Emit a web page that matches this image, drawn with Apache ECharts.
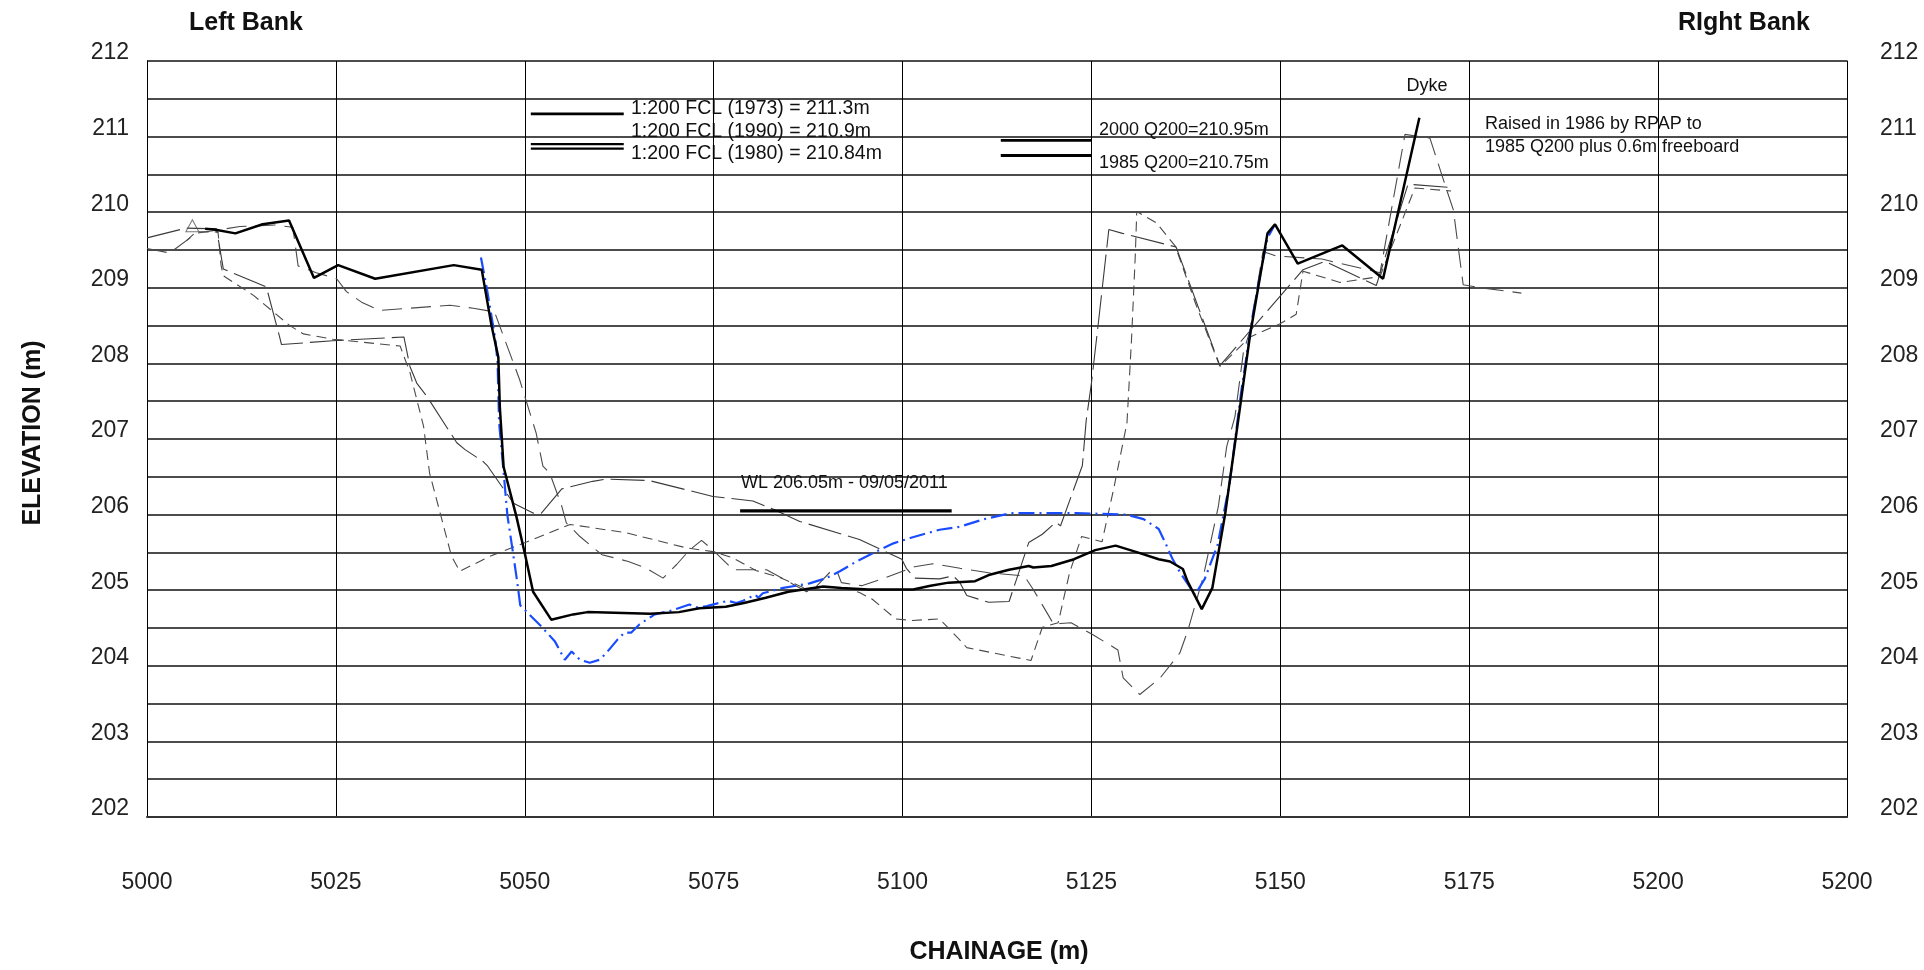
<!DOCTYPE html>
<html>
<head>
<meta charset="utf-8">
<script src="https://cdn.jsdelivr.net/npm/echarts@6/dist/echarts.min.js"></script>
<style>
  html, body { margin: 0; padding: 0; background: #fff; }
  #box { width: 1924px; height: 970px; }
</style>
</head>
<body>
<div id="box"></div>
<script>
// tick labels (the last one really reads 5200 on the drawing)
const xTickLabels = ['5000', '5025', '5050', '5075', '5100', '5125', '5150', '5175', '5200', '5200'];
const yTickLabels = ['202', '203', '204', '205', '206', '207', '208', '209', '210', '211', '212'];

// surveys: [chainage, elevation]
const surveyBlack = [
  [5007.7, 209.78], [5008.9, 209.77], [5011.7, 209.72], [5015.3, 209.84], [5018.8, 209.89], [5022.1, 209.13],
  [5025.3, 209.30], [5030.2, 209.12], [5040.6, 209.30], [5044.3, 209.24], [5045.6, 208.50], [5046.5, 208.08],
  [5046.7, 207.42], [5047.2, 206.63], [5048.9, 205.97], [5050.0, 205.49], [5051.1, 204.98], [5053.5, 204.61],
  [5056.4, 204.68], [5058.3, 204.71], [5066.6, 204.69], [5070.4, 204.71], [5073.1, 204.76], [5076.6, 204.78],
  [5079.0, 204.83], [5081.9, 204.90], [5084.9, 204.98], [5089.5, 205.05], [5091.9, 205.03], [5095.5, 205.01],
  [5101.4, 205.01], [5103.7, 205.06], [5106.1, 205.10], [5109.6, 205.12], [5111.4, 205.20], [5114.1, 205.27],
  [5116.7, 205.32], [5117.3, 205.30], [5119.7, 205.32], [5122.7, 205.41], [5125.5, 205.53], [5128.2, 205.59],
  [5131.1, 205.50], [5133.9, 205.41], [5135.4, 205.38], [5137.1, 205.28], [5137.7, 205.12], [5139.6, 204.75],
  [5141.0, 205.03], [5142.7, 206.01], [5146.0, 208.38], [5148.3, 209.72], [5149.3, 209.84], [5152.3, 209.32],
  [5158.2, 209.56], [5163.6, 209.12], [5168.4, 211.25]
];
const surveyBlue = [
  [5044.2, 209.40], [5045.0, 208.98], [5046.1, 208.32], [5046.4, 208.01], [5046.6, 207.22], [5047.2, 206.56],
  [5047.7, 205.99], [5048.3, 205.59], [5049.0, 205.11], [5049.4, 204.80], [5050.3, 204.71], [5052.3, 204.51],
  [5054.0, 204.32], [5055.3, 204.08], [5056.2, 204.19], [5056.4, 204.17], [5057.3, 204.08], [5058.6, 204.04],
  [5059.9, 204.08], [5060.8, 204.17], [5062.3, 204.35], [5063.2, 204.44], [5064.1, 204.44], [5065.2, 204.55],
  [5067.2, 204.68], [5069.4, 204.73], [5071.8, 204.81], [5072.9, 204.77], [5074.1, 204.79], [5076.9, 204.86],
  [5078.0, 204.83], [5078.9, 204.86], [5080.5, 204.94], [5080.9, 204.90], [5081.5, 204.96], [5084.2, 205.03],
  [5087.7, 205.09], [5089.9, 205.16], [5091.7, 205.25], [5093.9, 205.38], [5096.5, 205.51], [5098.8, 205.62],
  [5101.0, 205.69], [5104.9, 205.80], [5107.6, 205.84], [5110.8, 205.94], [5114.4, 206.02], [5123.0, 206.02],
  [5129.6, 206.00], [5131.9, 205.94], [5133.9, 205.81], [5134.9, 205.60], [5135.7, 205.42], [5136.7, 205.24],
  [5138.7, 204.94], [5140.0, 205.15], [5141.7, 205.60], [5143.3, 206.42], [5144.8, 207.61], [5146.3, 208.61],
  [5147.3, 209.16], [5148.3, 209.66], [5149.3, 209.84]
];
const surveyA = [
  [5000.0, 209.66], [5005.2, 209.79], [5009.2, 209.78], [5010.1, 209.25], [5015.8, 209.01], [5017.5, 208.37],
  [5017.8, 208.25], [5024.6, 208.30], [5034.0, 208.35], [5034.8, 207.96], [5035.7, 207.74], [5037.0, 207.57],
  [5041.0, 206.95], [5042.1, 206.86], [5044.5, 206.70], [5045.1, 206.64], [5048.5, 206.15], [5051.1, 206.02],
  [5052.2, 206.02], [5054.9, 206.34], [5059.0, 206.44], [5060.8, 206.47], [5066.5, 206.45], [5074.9, 206.24],
  [5080.2, 206.18], [5082.9, 206.07], [5086.4, 205.91], [5094.3, 205.67], [5099.9, 205.41], [5100.5, 205.29],
  [5101.6, 205.16], [5104.9, 205.15], [5106.7, 205.19], [5107.6, 205.10], [5108.5, 204.93], [5111.4, 204.84],
  [5114.1, 204.85], [5116.7, 205.63], [5118.5, 205.74], [5120.3, 205.90], [5120.9, 205.85], [5123.8, 206.65],
  [5124.3, 207.24], [5125.0, 207.74], [5126.0, 208.61], [5127.3, 209.77], [5129.1, 209.72], [5136.2, 209.54],
  [5142.0, 207.97], [5153.0, 209.24], [5155.9, 209.35], [5162.7, 209.03], [5166.9, 210.37], [5172.2, 210.33]
];
const surveyB = [
  [5000.0, 209.52], [5003.0, 209.46], [5006.5, 209.72], [5012.3, 209.81], [5017.0, 209.83], [5019.3, 209.80],
  [5020.0, 209.29], [5022.4, 209.20], [5025.1, 209.12], [5026.4, 208.95], [5028.4, 208.81], [5030.8, 208.70],
  [5040.1, 208.77], [5043.2, 208.73], [5046.0, 208.68], [5046.7, 208.49], [5049.3, 207.79], [5051.5, 207.08],
  [5052.4, 206.64], [5053.3, 206.55], [5054.9, 206.11], [5055.5, 205.89], [5057.3, 205.71], [5060.2, 205.47],
  [5063.7, 205.38], [5066.1, 205.29], [5068.3, 205.16], [5070.1, 205.34], [5071.8, 205.53], [5073.4, 205.66],
  [5074.9, 205.53], [5077.6, 205.27], [5082.0, 205.27], [5085.5, 205.08], [5087.3, 204.98], [5088.6, 205.05],
  [5090.4, 205.24], [5091.3, 205.26], [5091.9, 205.10], [5094.6, 205.06], [5097.0, 205.14], [5101.6, 205.31],
  [5104.0, 205.35], [5107.6, 205.29], [5111.4, 205.23], [5116.1, 205.19], [5117.3, 205.01], [5120.0, 204.55],
  [5120.9, 204.56], [5122.3, 204.57], [5125.2, 204.41], [5128.5, 204.21], [5129.2, 203.84], [5131.4, 203.62],
  [5134.1, 203.84], [5136.7, 204.17], [5137.8, 204.48], [5139.8, 205.18], [5141.8, 206.11], [5142.9, 206.90],
  [5144.0, 207.30], [5145.1, 208.14], [5146.0, 208.44], [5147.7, 209.48], [5149.5, 209.42], [5155.5, 209.38],
  [5163.2, 209.20], [5166.5, 211.03], [5169.8, 210.98], [5172.0, 210.30], [5172.9, 210.03], [5174.2, 209.04],
  [5176.6, 209.00], [5181.9, 208.93]
];
const surveyC = [
  [5005.2, 209.62], [5006.5, 209.74], [5009.4, 209.74], [5009.8, 209.30], [5010.1, 209.16], [5014.1, 208.90],
  [5018.9, 208.50], [5020.7, 208.39], [5024.6, 208.32], [5033.5, 208.23], [5034.8, 207.88], [5036.6, 207.17],
  [5037.4, 206.55], [5038.8, 206.02], [5040.3, 205.45], [5041.4, 205.25], [5045.4, 205.45], [5049.8, 205.62],
  [5056.0, 205.87], [5063.4, 205.76], [5071.4, 205.56], [5074.9, 205.51], [5077.5, 205.43], [5080.6, 205.26],
  [5083.7, 205.17], [5087.2, 205.02], [5091.6, 205.04], [5094.3, 204.97], [5096.0, 204.88], [5099.1, 204.62],
  [5101.3, 204.60], [5104.9, 204.62], [5107.5, 204.35], [5108.5, 204.24], [5117.0, 204.07], [5118.5, 204.51],
  [5120.6, 204.57], [5122.1, 205.23], [5123.7, 205.71], [5126.4, 205.64], [5127.9, 206.32], [5129.7, 207.21],
  [5130.3, 208.31], [5130.8, 209.42], [5131.0, 210.01], [5133.6, 209.86], [5136.1, 209.55], [5138.9, 208.76],
  [5142.0, 207.96], [5146.0, 208.35], [5149.9, 208.52], [5152.1, 208.65], [5153.0, 209.22], [5157.9, 209.07],
  [5163.2, 209.15], [5167.8, 210.32], [5172.6, 210.28]
];
const benchMark = [[5006.0, 209.82]];

// level lines
const fcl1973 = [[5050.8, 211.3], [5063.1, 211.3]];
const fcl1990 = [[5050.8, 210.9], [5063.1, 210.9]];
const fcl1980 = [[5050.8, 210.84], [5063.1, 210.84]];
const q200y2000 = [[5113, 210.95], [5125, 210.95]];
const q200y1985 = [[5113, 210.75], [5125, 210.75]];
const wl2011 = [[5078.5, 206.05], [5106.5, 206.05]];

const FONT = 'Liberation Sans, Arial, sans-serif';

function line(data, color, width, type, z) {
  return {
    type: 'line', data: data, symbol: 'none', silent: true, z: z || 2,
    lineStyle: { color: color, width: width, type: type || 'solid' }
  };
}

function txt(x, y, text, size, bold, align, rot) {
  return {
    type: 'text', x: x, y: y, rotation: rot || 0, silent: true,
    style: {
      text: text, fill: '#111',
      font: (bold ? 'bold ' : '') + size + 'px ' + FONT,
      align: align || 'left', verticalAlign: 'middle',
      textAlign: align || 'left', textVerticalAlign: 'middle'
    }
  };
}

const chart = echarts.init(document.getElementById('box'));
const yLabel = {
  fontSize: 23, color: '#222', fontFamily: FONT,
  verticalAlign: 'bottom', lineHeight: 16,
  formatter: v => Number.isInteger(v) ? yTickLabels[v - 202] : ''
};

chart.setOption({
  animation: false,
  backgroundColor: '#fff',
  grid: { left: 147, top: 61, width: 1700, height: 756 },
  xAxis: {
    type: 'value', min: 5000, max: 5225, interval: 25,
    axisLine: { show: true, onZero: false, lineStyle: { color: '#333', width: 2 } },
    axisTick: { show: false },
    splitLine: { show: true, lineStyle: { color: '#000', width: 1 } },
    axisLabel: {
      margin: 54, fontSize: 23, color: '#222', fontFamily: FONT, showMaxLabel: true,
      formatter: v => xTickLabels[Math.round((v - 5000) / 25)]
    }
  },
  yAxis: [
    {
      type: 'value', min: 202, max: 212, interval: 0.5, position: 'left',
      axisLine: { show: true, lineStyle: { color: '#000', width: 1 } },
      axisTick: { show: false },
      splitLine: { show: true, lineStyle: { color: '#111', width: 1.6 } },
      axisLabel: Object.assign({ margin: 18 }, yLabel)
    },
    {
      type: 'value', min: 202, max: 212, interval: 0.5, position: 'right',
      axisLine: { show: true, lineStyle: { color: '#000', width: 1 } },
      axisTick: { show: false },
      splitLine: { show: false },
      axisLabel: Object.assign({ margin: 33 }, yLabel)
    }
  ],
  series: [
    line(surveyB, '#4a4a4a', 1.1, [20, 9], 2),
    line(surveyC, '#4a4a4a', 1.1, [10, 6], 2),
    line(surveyA, '#3a3a3a', 1.1, [34, 7], 2),
    {
      type: 'scatter', data: benchMark, symbol: 'triangle', symbolSize: [13, 12], silent: true, z: 3,
      itemStyle: { color: 'rgba(0,0,0,0)', borderColor: '#555', borderWidth: 1 }
    },
    line(surveyBlue, '#1a4cff', 2.2, [16, 5, 2, 5], 4),
    line(surveyBlack, '#000', 2.5, 'solid', 5),
    line(fcl1973, '#000', 2.8, 'solid', 5),
    line(fcl1990, '#000', 2.2, 'solid', 5),
    line(fcl1980, '#000', 2.2, 'solid', 5),
    line(q200y2000, '#000', 2.8, 'solid', 5),
    line(q200y1985, '#000', 2.8, 'solid', 5),
    line(wl2011, '#000', 3.2, 'solid', 5)
  ],
  graphic: {
    elements: [
      txt(246, 23, 'Left Bank', 25, true, 'center'),
      txt(1744, 23, 'RIght Bank', 25, true, 'center'),
      txt(33, 433, 'ELEVATION (m)', 25, true, 'center', Math.PI / 2),
      txt(999, 952, 'CHAINAGE (m)', 25, true, 'center'),
      txt(631, 109, '1:200 FCL (1973) = 211.3m', 19.5),
      txt(631, 132, '1:200 FCL (1990) = 210.9m', 19.5),
      txt(631, 154, '1:200 FCL (1980) = 210.84m', 19.5),
      txt(1099, 130, '2000 Q200=210.95m', 18),
      txt(1099, 163, '1985 Q200=210.75m', 18),
      txt(1427, 86, 'Dyke', 18, false, 'center'),
      txt(1485, 124, 'Raised in 1986 by RPAP to', 18),
      txt(1485, 147, '1985 Q200 plus 0.6m freeboard', 18),
      txt(741, 483, 'WL 206.05m - 09/05/2011', 18)
    ]
  }
});
</script>
</body>
</html>
